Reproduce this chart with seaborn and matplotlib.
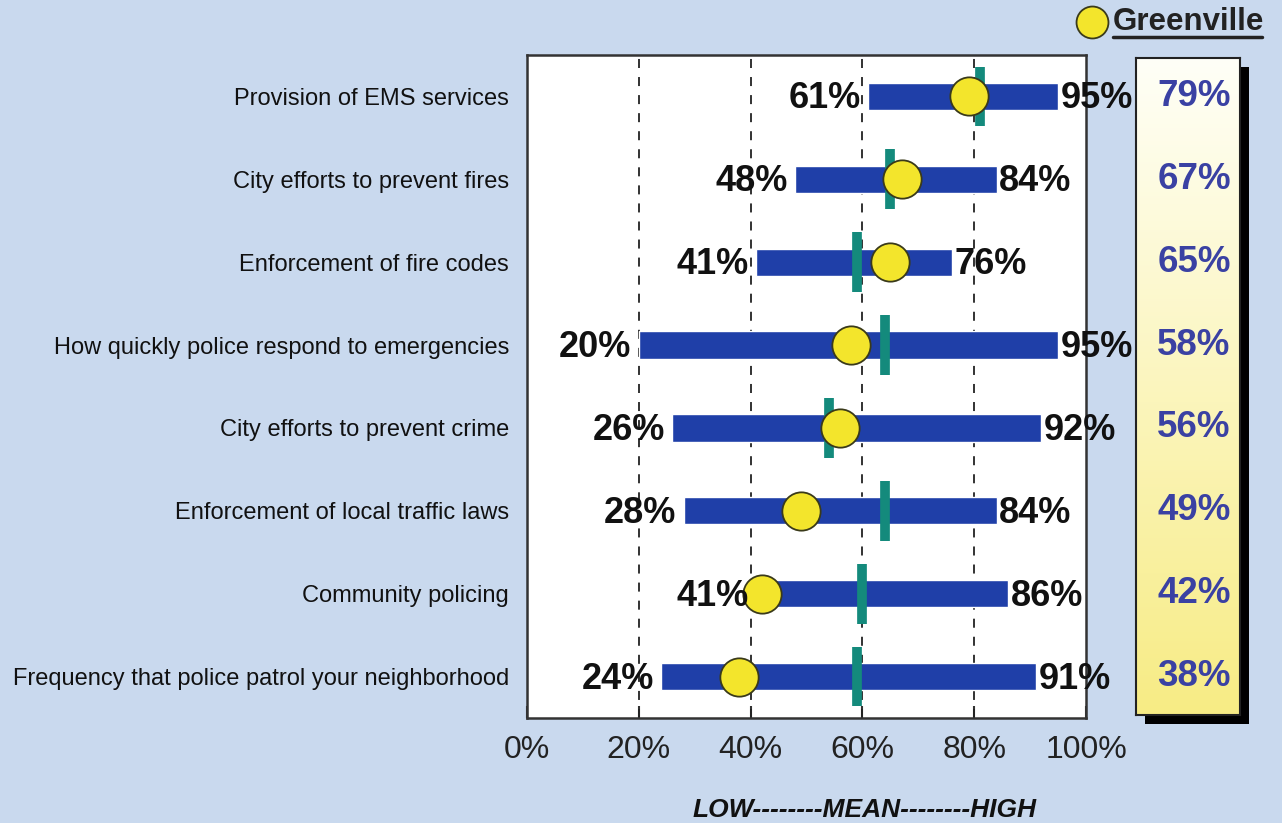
import matplotlib
matplotlib.use("Agg")
import matplotlib.pyplot as plt
import matplotlib.transforms as mtransforms
from matplotlib.lines import Line2D
import numpy as np
import pandas as pd
import seaborn as sns

categories = [
    "Provision of EMS services",
    "City efforts to prevent fires",
    "Enforcement of fire codes",
    "How quickly police respond to emergencies",
    "City efforts to prevent crime",
    "Enforcement of local traffic laws",
    "Community policing",
    "Frequency that police patrol your neighborhood",
]
low = [61, 48, 41, 20, 26, 28, 41, 24]
high = [95, 84, 76, 95, 92, 84, 86, 91]
mean = [81, 65, 59, 64, 54, 64, 60, 59]
greenville = [79, 67, 65, 58, 56, 49, 42, 38]
xticks = [0, 20, 40, 60, 80, 100]
xticklabels = ["0%", "20%", "40%", "60%", "80%", "100%"]

df = pd.DataFrame({"cat": categories, "low": low, "high": high,
                   "mean": mean, "gv": greenville})
df["pos"] = np.arange(len(df))

sns.set_theme(style="white")
plt.rcParams["font.family"] = ["Liberation Sans", "DejaVu Sans"]

BG = "#c9d9ee"
BAR = "#1f3fa8"
TEAL = "#148a7c"
YEL = "#f3e52c"
BLUE_TXT = "#3a41a3"

W, H = 1282, 823
fig = plt.figure(figsize=(W / 100, H / 100), dpi=100, facecolor=BG)

def fx(px):
    return px / W

def fy(py):
    return 1 - py / H

ax_l, ax_r, ax_t, ax_b = 527, 1086, 55, 718
ax = fig.add_axes([fx(ax_l), fy(ax_b), fx(ax_r - ax_l), fy(ax_t) - fy(ax_b)])
ax.set_facecolor("white")
ax.set_xlim(0, 100)
ax.set_ylim(len(df) - 0.5, -0.5)

# dashed gridlines
for x in [20, 40, 60, 80]:
    ax.axvline(x, color="#222222", lw=1.3, ls=(0, (5, 5)), zorder=1)

# range bars
ax.barh(df["pos"], df["high"] - df["low"], left=df["low"], height=0.33,
        color=BAR, zorder=2)

# mean markers
ax.vlines(df["mean"], df["pos"] - 0.36, df["pos"] + 0.36, color=TEAL,
          lw=7, zorder=3)

# greenville circles
sns.scatterplot(data=df, x="gv", y="pos", ax=ax, s=760, color=YEL,
                edgecolor="#3a3a1a", linewidth=1.3, zorder=4, legend=False)

# value labels
for _, r in df.iterrows():
    ax.text(r["low"] - 1.3, r["pos"] + 0.03, f"{r['low']}%", ha="right", va="center",
            fontsize=26, fontweight="bold", color="#111111", zorder=5)
    ax.text(r["high"] + 0.5, r["pos"] + 0.03, f"{r['high']}%", ha="left", va="center",
            fontsize=26, fontweight="bold", color="#111111", zorder=5)

ax.set_xticks(xticks)
ax.set_xticklabels(xticklabels, fontsize=23, color="#222222")
ax.tick_params(axis="x", direction="in", length=9, width=1.5, color="#333333",
               pad=12, bottom=True)
ax.set_yticks(df["pos"])
ax.set_yticklabels(df["cat"], fontsize=17, color="#111111")
ax.tick_params(axis="y", length=0, pad=13)
ax.set_xlabel("")
ax.set_ylabel("")
for s in ax.spines.values():
    s.set_color("#333333")
    s.set_linewidth(1.8)
    s.set_visible(True)

# bottom label
fig.text(fx(865), fy(810), "LOW--------MEAN--------HIGH", ha="center",
         va="center", fontsize=19, fontweight="bold", fontstyle="italic",
         color="#111111")

# right panel with shadow and gradient
pl, pr, pt, pb = 1136, 1240, 58, 715
sh = 9
shax = fig.add_axes([fx(pl + sh), fy(pb + sh), fx(pr - pl), fy(pt + sh) - fy(pb + sh)])
shax.set_facecolor("black")
shax.set_xticks([])
shax.set_yticks([])
for s in shax.spines.values():
    s.set_visible(False)
shax.set_zorder(0)

pax = fig.add_axes([fx(pl), fy(pb), fx(pr - pl), fy(pt) - fy(pb)])
pax.set_zorder(1)
grad = np.linspace(0, 1, 256).reshape(-1, 1)
top_c = np.array([1.0, 1.0, 0.97])
bot_c = np.array([0.97, 0.925, 0.52])
img = top_c[None, None, :] * (1 - grad[:, :, None]) + bot_c[None, None, :] * grad[:, :, None]
pax.imshow(img, aspect="auto", extent=[0, 1, 1, 0])
pax.set_xlim(0, 1)
pax.set_ylim(1, 0)
pax.set_xticks([])
pax.set_yticks([])
for s in pax.spines.values():
    s.set_color("#222222")
    s.set_linewidth(1.5)

tr = mtransforms.blended_transform_factory(fig.transFigure, ax.transData)
for _, r in df.iterrows():
    t = fig.text(fx(1194), r["pos"], f"{r['gv']}%", transform=tr, ha="center",
                 va="center", fontsize=26.5, fontweight="bold", color=BLUE_TXT)
    t.set_zorder(5)

# legend
fig.add_artist(Line2D([fx(1092)], [fy(22)], marker="o", markersize=23,
                      markerfacecolor=YEL, markeredgecolor="#3a3a1a",
                      markeredgewidth=1.3, transform=fig.transFigure))
fig.text(fx(1113), fy(22), "Greenville", ha="left", va="center", fontsize=22.5,
         fontweight="bold", color="#222222")
fig.add_artist(Line2D([fx(1113), fx(1262)], [fy(37), fy(37)], color="#222222",
                      lw=2.5, transform=fig.transFigure))

fig.savefig("out.png", dpi=100, facecolor=BG)
